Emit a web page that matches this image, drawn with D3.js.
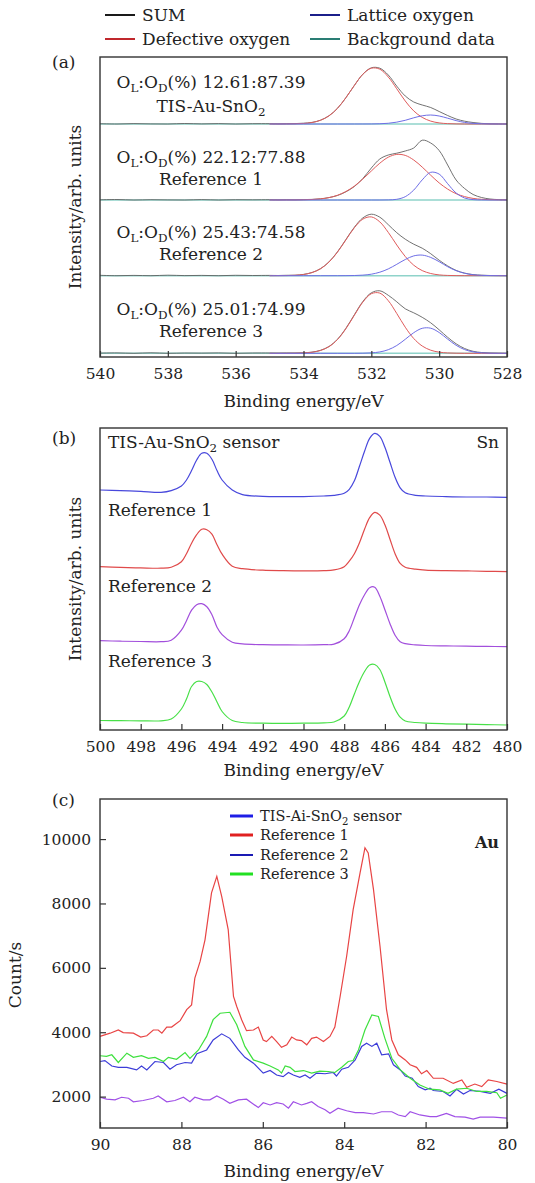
<!DOCTYPE html>
<html>
<head>
<meta charset="utf-8">
<script src="https://cdn.jsdelivr.net/npm/d3@7"></script>
<style>
  body { margin: 0; background: #fff; }
  text { font-family: 'DejaVu Serif', serif; fill: #222; }
</style>
</head>
<body>
<script>
// ---------- panel (a): O 1s fits ----------
const oxyE = [535, 534.75, 534.5, 534.25, 534, 533.75, 533.5, 533.25, 533, 532.75, 532.5, 532.25, 532, 531.75, 531.5, 531.25, 531, 530.75, 530.5, 530.25, 530, 529.75, 529.5, 529.25, 529, 528.75, 528.5, 528.25, 528]
const oxyLeadE = [540, 539.5, 539, 538.5, 538, 537.5, 537, 536.5, 536, 535.5]
const oxyBgE = [540, 528]
const oxyBg = [0, 0]
const oxySamples = ['TIS-Au-SnO_{2}', 'Reference 1', 'Reference 2', 'Reference 3']
const oxyRatios = ['12.61:87.39', '22.12:77.88', '25.43:74.58', '25.01:74.99']
const oxyOffsets = [233, 157, 81.3, 3.7]

const sumLead1 = [0.3, 0.0, 0.4, 0.1, 0.0, 0.5, 0.1, 0.4, 0.0, 0.3]
const sumLead2 = [0.2, 0.5, 0.0, 0.3, 0.1, 0.0, 0.4, 0.0, 0.3, 0.2]
const sumLead3 = [0.4, 0.0, 0.3, 0.0, 0.5, 0.1, 0.3, 0.0, 0.4, 0.2]
const sumLead4 = [0.2, 0.4, 0.0, 0.5, 0.0, 0.3, 0.2, 0.4, 0.0, 0.3]

const sum1 = [0.3, 0.2, 0.3, 0.4, 0.8, 1.6, 3.8, 8.2, 15.6, 26.3, 38.6, 49.8, 56.2, 55.8, 49.0, 37.8, 28.0, 22.0, 19.0, 16.5, 12.5, 8.5, 5.0, 2.8, 1.5, 0.6, 0.2, 0.1, 0]
const red1 = [0, 0, 0.04, 0.15, 0.5, 1.45, 3.7, 8.1, 15.6, 26.3, 38.6, 49.7, 55.8, 54.8, 47.0, 35.2, 23.0, 13.1, 6.6, 2.9, 1.1, 0.36, 0.1, 0, 0, 0, 0, 0, 0]
const blue1 = [0, 0, 0, 0, 0, 0, 0, 0, 0, 0, 0.01, 0.02, 0.06, 0.24, 0.73, 1.85, 3.7, 6.2, 8.2, 9.0, 8.0, 5.8, 3.4, 1.6, 0.6, 0.2, 0.05, 0, 0]

const sum2 = [0.3, 0.2, 0.3, 0.2, 0.4, 0.6, 1.2, 2.4, 4.5, 8.2, 13.5, 21.5, 32.0, 41.0, 45.0, 46.8, 49.0, 52.0, 59.8, 57.0, 49.5, 35.0, 20.0, 11.5, 5.5, 2.5, 1.0, 0.4, 0.2]
const red2 = [0, 0, 0.02, 0.07, 0.19, 0.5, 1.1, 2.4, 4.7, 8.5, 13.9, 21.0, 29.0, 36.8, 42.8, 45.6, 44.6, 40.0, 32.9, 24.8, 17.1, 10.9, 6.3, 3.4, 1.6, 0.7, 0.3, 0.1, 0.04]
const blue2 = [0, 0, 0, 0, 0, 0, 0, 0, 0, 0, 0, 0, 0, 0, 0.1, 0.7, 3.3, 9.9, 20.1, 27.7, 25.9, 16.3, 7.0, 2.0, 0.4, 0.05, 0, 0, 0]

const sum3 = [0.3, 0.2, 0.4, 0.5, 1.3, 3.2, 7.0, 13.8, 23.8, 36.2, 48.5, 57.8, 61.5, 58.5, 51.0, 43.0, 36.5, 31.5, 27.5, 22.0, 15.5, 9.8, 5.3, 2.6, 1.1, 0.5, 0.2, 0.1, 0]
const red3 = [0, 0.03, 0.13, 0.4, 1.2, 3.1, 6.9, 13.6, 23.5, 35.8, 48.0, 56.6, 58.8, 53.8, 43.3, 30.7, 19.2, 10.5, 5.1, 2.2, 0.8, 0.27, 0.08, 0, 0, 0, 0, 0, 0]
const blue3 = [0, 0, 0, 0, 0, 0, 0, 0, 0.01, 0.05, 0.18, 0.57, 1.5, 3.5, 6.8, 11.4, 16.2, 19.8, 20.6, 18.3, 14.0, 9.0, 5.0, 2.4, 0.96, 0.33, 0.1, 0.03, 0]

const sum4 = [0.3, 0.2, 0.3, 0.3, 0.5, 1.2, 3.0, 6.8, 14.0, 25.0, 38.6, 51.8, 60.5, 62.5, 58.0, 51.5, 44.5, 40.5, 36.0, 30.5, 23.5, 16.0, 9.5, 4.8, 2.0, 0.8, 0.3, 0.1, 0]
const red4 = [0, 0, 0.02, 0.09, 0.32, 1.0, 2.8, 6.6, 13.7, 24.6, 38.1, 51.2, 59.6, 60.2, 52.6, 39.8, 26.1, 14.8, 7.3, 3.1, 1.15, 0.37, 0.1, 0, 0, 0, 0, 0, 0]
const blue4 = [0, 0, 0, 0, 0, 0, 0, 0, 0, 0, 0, 0.1, 0.43, 1.37, 3.6, 7.8, 14.0, 20.6, 25.0, 25.1, 20.8, 14.2, 8.0, 3.7, 1.44, 0.45, 0.12, 0.03, 0]

const oxyTicks = [540, 538, 536, 534, 532, 530, 528]

// ---------- panel (b): Sn 3d ----------
const snE = [500, 499, 498, 497, 496.5, 496, 495.75, 495.5, 495.25, 495, 494.75, 494.5, 494.25, 494, 493.5, 493, 492, 491, 490, 489, 488.5, 488, 487.75, 487.5, 487.25, 487, 486.75, 486.5, 486.25, 486, 485.75, 485.5, 485.25, 485, 484.5, 484, 483, 482, 481, 480]
const snTis = [7.3, 6.7, 6.0, 5.0, 6.7, 11.3, 17.3, 26.7, 37.3, 44.0, 44.0, 38.0, 26.7, 17.3, 7.3, 2.7, 1.0, 0.7, 0.7, 1.3, 2.0, 4.0, 8.0, 16.5, 31.0, 46.0, 59.0, 64.0, 61.0, 50.0, 35.0, 20.0, 9.5, 4.5, 2.0, 1.3, 0.7, 0.3, 0.3, 0]
const snRef1 = [5.0, 4.3, 3.8, 3.5, 4.5, 10.0, 18.0, 28.5, 37.0, 42.5, 42.0, 37.5, 27.0, 17.5, 5.5, 3.0, 1.5, 1.0, 0.8, 1.0, 1.8, 5.0, 10.5, 18.0, 29.0, 42.5, 54.0, 59.3, 56.5, 47.0, 32.5, 18.0, 8.3, 4.5, 2.5, 1.5, 1.0, 0.8, 0.4, 0]
const snRef2 = [6.0, 5.5, 5.2, 5.0, 6.5, 16.5, 26.0, 36.5, 42.0, 43.0, 40.0, 32.0, 19.5, 12.0, 4.5, 2.8, 2.0, 1.8, 1.7, 2.0, 2.5, 8.0, 16.0, 29.0, 42.0, 52.0, 59.0, 59.5, 50.5, 37.0, 23.0, 11.5, 5.0, 3.0, 1.8, 1.2, 0.8, 0.5, 0.3, 0]
const snRef3 = [4.5, 4.3, 4.2, 4.2, 6.0, 16.0, 26.0, 38.5, 43.5, 43.5, 40.5, 33.0, 23.0, 13.5, 4.5, 2.5, 1.8, 1.6, 1.8, 2.2, 3.0, 9.0, 18.0, 31.0, 43.5, 53.5, 60.0, 60.5, 55.5, 43.0, 28.5, 16.0, 7.8, 4.0, 2.5, 1.8, 1.2, 0.8, 0.4, 0]
const snLabels = ['TIS-Au-SnO_{2} sensor', 'Reference 1', 'Reference 2', 'Reference 3']
const snOffsets = [232.7, 158.3, 83.3, 5]
const snTicks = [500, 498, 496, 494, 492, 490, 488, 486, 484, 482, 480]

// ---------- panel (c): Au 4f ----------
const auRef1E = [90, 89.75, 89.55, 89.43, 89.18, 89, 88.85, 88.69, 88.57, 88.48, 88.36, 88.24, 88.03, 87.87, 87.75, 87.67, 87.54, 87.42, 87.26, 87.13, 87.01, 86.85, 86.72, 86.64, 86.52, 86.4, 86.23, 86.11, 85.99, 85.91, 85.78, 85.66, 85.54, 85.41, 85.29, 85.17, 85.05, 84.92, 84.8, 84.68, 84.51, 84.35, 84.23, 84.1, 83.94, 83.78, 83.61, 83.49, 83.41, 83.28, 83.12, 82.96, 82.83, 82.67, 82.5, 82.38, 82.22, 82.1, 81.97, 81.81, 81.57, 81.32, 81.11, 80.99, 80.79, 80.62, 80.46, 80.25, 80]
const auRef1 = [3870, 3970, 4070, 3990, 3970, 3850, 3890, 4070, 4070, 3970, 4160, 4160, 4360, 4700, 4850, 5680, 6200, 6870, 8330, 8840, 8220, 7190, 5110, 4800, 4390, 4050, 4070, 4160, 3760, 3710, 3870, 3710, 3530, 3610, 3850, 3760, 3740, 3610, 3810, 3850, 3710, 3870, 4160, 5110, 6360, 7810, 8950, 9730, 9570, 8430, 6670, 4700, 3760, 3300, 3140, 2990, 2910, 2710, 2810, 2570, 2570, 2410, 2520, 2290, 2390, 2310, 2520, 2470, 2390]

const auRef3E = [90, 89.84, 89.71, 89.55, 89.34, 89.18, 88.98, 88.81, 88.65, 88.44, 88.32, 88.12, 87.91, 87.79, 87.58, 87.38, 87.22, 87.05, 86.81, 86.64, 86.44, 86.23, 85.99, 85.82, 85.62, 85.54, 85.45, 85.33, 85.21, 85, 84.8, 84.6, 84.39, 84.23, 84.06, 83.9, 83.78, 83.65, 83.49, 83.32, 83.16, 83, 82.83, 82.62, 82.38, 82.14, 81.9, 81.65, 81.45, 81.24, 80.99, 80.74, 80.5, 80.25, 80.16, 80]
const auRef3 = [3270, 3250, 3300, 3060, 3350, 3220, 3270, 3190, 3220, 3090, 3220, 3160, 3370, 3190, 3450, 3870, 4390, 4590, 4620, 4230, 3560, 3140, 3040, 2950, 2830, 2730, 2950, 2910, 2780, 2810, 2730, 2790, 2780, 2750, 2910, 3090, 3120, 3450, 4070, 4540, 4490, 3810, 3190, 2830, 2570, 2360, 2230, 2210, 2100, 2230, 2260, 2160, 2160, 2120, 1950, 2050]

const auTisE = [90, 89.88, 89.71, 89.55, 89.34, 89.1, 88.98, 88.85, 88.65, 88.44, 88.28, 88.12, 87.91, 87.75, 87.62, 87.38, 87.22, 87.01, 86.81, 86.6, 86.44, 86.23, 85.99, 85.82, 85.66, 85.5, 85.37, 85.25, 85.09, 84.96, 84.84, 84.68, 84.47, 84.27, 84.19, 84.06, 83.9, 83.73, 83.57, 83.45, 83.32, 83.2, 83.08, 82.91, 82.79, 82.62, 82.5, 82.33, 82.18, 82.01, 81.89, 81.81, 81.57, 81.4, 81.24, 81.07, 80.91, 80.66, 80.41, 80.2, 80]
const auTis = [3090, 3120, 2950, 2910, 2910, 2830, 2950, 2830, 3090, 3060, 2850, 2990, 3060, 3040, 3330, 3450, 3760, 3950, 3810, 3450, 3220, 3040, 2730, 2810, 2670, 2620, 2750, 2670, 2600, 2670, 2570, 2730, 2710, 2750, 2640, 2850, 2910, 3140, 3560, 3660, 3560, 3660, 3300, 3330, 2990, 2830, 2640, 2570, 2310, 2210, 2260, 2190, 2160, 2020, 2230, 2080, 2190, 2160, 2100, 2230, 2100]

const auRef2E = [90, 89.84, 89.63, 89.47, 89.3, 89.18, 88.94, 88.69, 88.57, 88.36, 88.16, 87.95, 87.79, 87.67, 87.46, 87.3, 87.13, 86.97, 86.81, 86.6, 86.4, 86.28, 86.11, 85.99, 85.82, 85.66, 85.5, 85.37, 85.25, 85.05, 84.92, 84.8, 84.64, 84.47, 84.35, 84.15, 83.94, 83.73, 83.53, 83.28, 83.08, 82.83, 82.67, 82.5, 82.38, 82.14, 81.89, 81.73, 81.49, 81.28, 81.03, 80.83, 80.66, 80.33, 80]
const auRef2 = [1980, 1920, 1900, 1980, 1950, 1840, 1880, 1950, 2020, 1840, 1880, 1980, 1840, 1980, 1900, 1900, 2020, 1920, 1790, 1900, 1920, 1810, 1660, 1810, 1740, 1810, 1770, 1640, 1840, 1740, 1790, 1840, 1690, 1590, 1480, 1640, 1560, 1500, 1500, 1460, 1530, 1530, 1430, 1380, 1530, 1430, 1380, 1380, 1480, 1380, 1360, 1300, 1360, 1360, 1330]

const auLegend = ['TIS-Ai-SnO_{2} sensor', 'Reference 1', 'Reference 2', 'Reference 3']
const auXTicks = [90, 88, 86, 84, 82, 80]
const auYTicks = [2000, 4000, 6000, 8000, 10000]

// ---------- layout ----------
const width = 535
const height = 1183
const frameL = 100
const frameR = 507

const svg = d3.select('body')
  .append('svg')
  .attr('width', width)
  .attr('height', height)

// write text with _{sub} parts as tspans
function rich(textSel, str) {
  let down = false
  str.split(/(_\{[^}]*\})/).filter(s => s).forEach(s => {
    if (s.startsWith('_{')) {
      textSel.append('tspan').attr('dy', down ? 0 : 4).attr('font-size', '0.7em').text(s.slice(2, -1))
      down = true
    } else {
      textSel.append('tspan').attr('dy', down ? -4 : 0).text(s)
      down = false
    }
  })
  return textSel
}

function frame(top, bottom) {
  svg.append('rect')
    .attr('x', frameL).attr('y', top)
    .attr('width', frameR - frameL).attr('height', bottom - top)
    .attr('fill', 'none').attr('stroke', '#333').attr('stroke-width', 1.4)
}

function bottomAxis(x, ticks, bottom) {
  const g = svg.append('g')
    .attr('transform', 'translate(0,' + bottom + ')')
    .call(d3.axisBottom(x).tickValues(ticks).tickSizeInner(-6).tickSizeOuter(0).tickPadding(11).tickFormat(d3.format('d')))
  g.select('.domain').remove()
  g.selectAll('line').attr('stroke', '#333').attr('stroke-width', 1.2)
  g.selectAll('text').attr('font-size', 15.5).attr('font-family', "'DejaVu Serif', serif").attr('fill', '#222')
}

function xTitle(y) {
  svg.append('text')
    .attr('x', (frameL + frameR) / 2).attr('y', y)
    .attr('text-anchor', 'middle').attr('font-size', 17)
    .text('Binding energy/eV')
}

function yTitle(label, x, y) {
  svg.append('text')
    .attr('transform', 'translate(' + x + ',' + y + ') rotate(-90)')
    .attr('text-anchor', 'middle').attr('font-size', 17)
    .text(label)
}

function panelTag(label, y) {
  svg.append('text').attr('x', 52).attr('y', y).attr('font-size', 17).text(label)
}

// ---------- (a) ----------
const xA = d3.scaleLinear().domain([540, 528]).range([frameL, frameR])
const yA = d3.scaleLinear().domain([0, 300]).range([357, 57])
const lineA = d3.line().curve(d3.curveCatmullRom.alpha(0.5))

const oxySets = [
  { lead: sumLead1, sum: sum1, red: red1, blue: blue1 },
  { lead: sumLead2, sum: sum2, red: red2, blue: blue2 },
  { lead: sumLead3, sum: sum3, red: red3, blue: blue3 },
  { lead: sumLead4, sum: sum4, red: red4, blue: blue4 }
]

oxySets.forEach(function(s, i) {
  const off = oxyOffsets[i]
  const pts = (es, vs) => es.map((e, k) => [xA(e), yA(vs[k] + off)])
  svg.append('path').attr('fill', 'none').attr('stroke', '#8fd3ca').attr('stroke-width', 1.4)
    .attr('d', lineA(pts(oxyBgE, oxyBg)))
  svg.append('path').attr('fill', 'none').attr('stroke', '#626262').attr('stroke-width', 0.9)
    .attr('d', lineA(pts(oxyLeadE.concat(oxyE), s.lead.concat(s.sum))))
  svg.append('path').attr('fill', 'none').attr('stroke', '#e05c5c').attr('stroke-width', 1)
    .attr('d', lineA(pts(oxyE, s.red)))
  svg.append('path').attr('fill', 'none').attr('stroke', '#6e6ee6').attr('stroke-width', 1)
    .attr('d', lineA(pts(oxyE, s.blue)))
})

const oxyTextY = [[88, 112], [163, 185], [238, 260], [315, 337]]
oxyRatios.forEach(function(r, i) {
  rich(svg.append('text').attr('x', 211).attr('y', oxyTextY[i][0]).attr('text-anchor', 'middle').attr('font-size', 17),
    'O_{L}:O_{D}(%) ' + r)
  rich(svg.append('text').attr('x', 211).attr('y', oxyTextY[i][1]).attr('text-anchor', 'middle').attr('font-size', 17),
    oxySamples[i])
})

frame(57, 357)
bottomAxis(xA, oxyTicks, 357)
xTitle(407)
yTitle('Intensity/arb. units', 81, 207)
panelTag('(a)', 68)

// legend (a)
const oxyLegend = [
  { label: 'SUM', color: '#1a1a1a', x: 105, y: 15 },
  { label: 'Defective oxygen', color: '#c0282d', x: 105, y: 39 },
  { label: 'Lattice oxygen', color: '#1b1f8a', x: 310, y: 15 },
  { label: 'Background data', color: '#2a7d74', x: 310, y: 39 }
]
oxyLegend.forEach(function(d) {
  svg.append('line').attr('x1', d.x).attr('x2', d.x + 30).attr('y1', d.y).attr('y2', d.y)
    .attr('stroke', d.color).attr('stroke-width', 2)
  svg.append('text').attr('x', d.x + 37).attr('y', d.y + 5.5).attr('font-size', 17).text(d.label)
})

// ---------- (b) ----------
const xB = d3.scaleLinear().domain([500, 480]).range([frameL, frameR])
const yB = d3.scaleLinear().domain([0, 302]).range([730, 428])
const lineB = d3.line().curve(d3.curveCatmullRom.alpha(0.5))
const snSeries = [snTis, snRef1, snRef2, snRef3]
const snColors = ['#4848dc', '#e04a4a', '#a24fdc', '#48e048']

snSeries.forEach(function(vals, i) {
  svg.append('path').attr('fill', 'none').attr('stroke', snColors[i]).attr('stroke-width', 1.2)
    .attr('d', lineB(snE.map((e, k) => [xB(e), yB(vals[k] + snOffsets[i])])))
})

const snTextY = [448, 516, 592, 667]
snLabels.forEach(function(l, i) {
  rich(svg.append('text').attr('x', 108).attr('y', snTextY[i]).attr('font-size', 17), l)
})
svg.append('text').attr('x', 499).attr('y', 448).attr('text-anchor', 'end').attr('font-size', 17).text('Sn')

frame(428, 730)
bottomAxis(xB, snTicks, 730)
xTitle(776)
yTitle('Intensity/arb. units', 81, 579)
panelTag('(b)', 444)

// ---------- (c) ----------
const xC = d3.scaleLinear().domain([90, 80]).range([frameL, frameR])
const yC = d3.scaleLinear().domain([1025, 11245]).range([1128, 799])
const lineC = d3.line().x(d => xC(d[0])).y(d => yC(d[1]))

const auSeries = [
  { e: auRef2E, v: auRef2, color: '#a050e6' },
  { e: auTisE, v: auTis, color: '#3c3cd8' },
  { e: auRef3E, v: auRef3, color: '#3ee03e' },
  { e: auRef1E, v: auRef1, color: '#e84444' }
]
auSeries.forEach(function(s) {
  svg.append('path').attr('fill', 'none').attr('stroke', s.color).attr('stroke-width', 1.2)
    .attr('d', lineC(s.e.map((e, k) => [e, s.v[k]])))
})

frame(799, 1128)
bottomAxis(xC, auXTicks, 1128)

const yAxisC = svg.append('g')
  .attr('transform', 'translate(' + frameL + ',0)')
  .call(d3.axisLeft(yC).tickValues(auYTicks).tickSizeInner(-6).tickSizeOuter(0).tickPadding(9).tickFormat(d3.format('d')))
yAxisC.select('.domain').remove()
yAxisC.selectAll('line').attr('stroke', '#333').attr('stroke-width', 1.2)
yAxisC.selectAll('text').attr('font-size', 15.5).attr('font-family', "'DejaVu Serif', serif").attr('fill', '#222')

xTitle(1177)
yTitle('Count/s', 21, 975)
panelTag('(c)', 806)

const auLegendColors = ['#1e1ee6', '#e02020', '#1a1ab4', '#22e022']
const auLegendWidths = [3, 3, 2, 3]
const auLegendY = [816, 835, 855, 874]
auLegend.forEach(function(l, i) {
  svg.append('line').attr('x1', 230).attr('x2', 253).attr('y1', auLegendY[i]).attr('y2', auLegendY[i])
    .attr('stroke', auLegendColors[i]).attr('stroke-width', auLegendWidths[i])
  rich(svg.append('text').attr('x', 260).attr('y', auLegendY[i] + 5).attr('font-size', 14.5), l)
})
svg.append('text').attr('x', 499).attr('y', 848).attr('text-anchor', 'end')
  .attr('font-size', 16).attr('font-weight', 'bold').text('Au')
</script>
</body>
</html>
